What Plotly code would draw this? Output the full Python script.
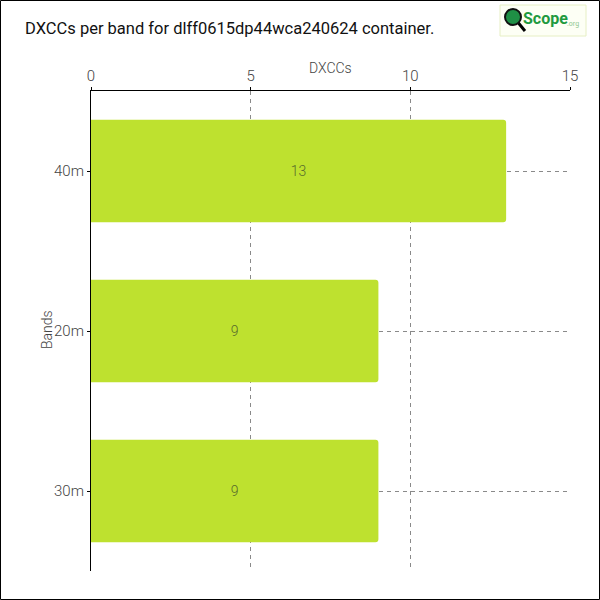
import plotly.graph_objects as go

bands = ["40m", "20m", "30m"]
dxccs = [13, 9, 9]
x_ticks = [0, 5, 10, 15]

L, R, T, B = 91, 570, 91, 571
W, H = 600, 600

def px(x):
    return (x - L) / (R - L)

def py(y):
    return (B - y) / (B - T)

FONT = "Roboto, sans-serif"

fig = go.Figure(go.Bar(
    x=dxccs, y=bands, orientation="h",
    marker=dict(color="#bee12f", line=dict(width=0), cornerradius=3),
    width=0.64,
    text=[str(v) for v in dxccs], textposition="inside",
    insidetextanchor="middle",
    textfont=dict(color="#566b2c", size=14, family=FONT, weight=300),
    hoverinfo="skip",
))

fig.update_layout(
    width=W, height=H,
    margin=dict(l=L, r=W - R, t=T, b=H - B),
    paper_bgcolor="white", plot_bgcolor="white",
    showlegend=False,
    font=dict(family=FONT, color="#333"),
    title=dict(text="DXCCs per band for dlff0615dp44wca240624 container.",
               x=25 / W, xanchor="left", y=1 - 28 / H, yanchor="middle",
               font=dict(size=16.5, color="#111", family=FONT)),
    xaxis=dict(side="top", range=[0, 15], tickvals=x_ticks,
               ticktext=[str(t) for t in x_ticks],
               showgrid=True, gridcolor="#8a8a8a", griddash="4px,4px", gridwidth=1,
               showline=True, linecolor="black", linewidth=1,
               ticks="outside", ticklen=3, tickcolor="black",
               tickfont=dict(size=15, color="#444", weight=300),
               zeroline=False, fixedrange=True),
    yaxis=dict(range=[2.5, -0.5], categoryorder="array", categoryarray=bands,
               showgrid=True, gridcolor="#8a8a8a", griddash="4px,4px", gridwidth=1,
               showline=True, linecolor="black", linewidth=1,
               ticks="outside", ticklen=3, tickcolor="black",
               tickfont=dict(size=15, color="#444", weight=300),
               zeroline=False, fixedrange=True),
)

# axis titles
fig.add_annotation(xref="paper", yref="paper", x=px(330), y=py(68),
                   text="DXCCs", showarrow=False, xanchor="center", yanchor="middle",
                   font=dict(size=14, color="#444", family=FONT, weight=300))
fig.add_annotation(xref="paper", yref="paper", x=px(47), y=py(330),
                   text="Bands", showarrow=False, xanchor="center", yanchor="middle",
                   textangle=-90,
                   font=dict(size=14, color="#444", family=FONT, weight=300))

# page border
fig.add_shape(type="rect", xref="paper", yref="paper",
              x0=px(0.5), x1=px(W - 0.5), y0=py(0.5), y1=py(H - 0.5),
              line=dict(color="black", width=1), layer="above")

# logo
fig.add_shape(type="rect", xref="paper", yref="paper",
              x0=px(500), x1=px(586), y0=py(5), y1=py(36),
              line=dict(color="#e6efc4", width=1), fillcolor="#fdfff5", layer="above")
fig.add_shape(type="line", xref="paper", yref="paper",
              x0=px(516), y0=py(20), x1=px(525), y1=py(31),
              line=dict(color="black", width=3), layer="above")
fig.add_shape(type="circle", xref="paper", yref="paper",
              x0=px(505), x1=px(521), y0=py(9), y1=py(25),
              line=dict(color="#111", width=2), fillcolor="#1f8f45", layer="above")
fig.add_annotation(xref="paper", yref="paper", x=px(521), y=py(18),
                   text="<b>Scope</b>", showarrow=False, xanchor="left", yanchor="middle",
                   font=dict(size=16, color="#1f9a3f", family=FONT))
fig.add_annotation(xref="paper", yref="paper", x=px(565), y=py(24),
                   text=".org", showarrow=False, xanchor="left", yanchor="middle",
                   font=dict(size=7, color="#8fc78f", family=FONT))

fig.write_html("out.html", config={"displayModeBar": False},
               post_script="document.body.style.margin='0';document.body.style.padding='0';")
